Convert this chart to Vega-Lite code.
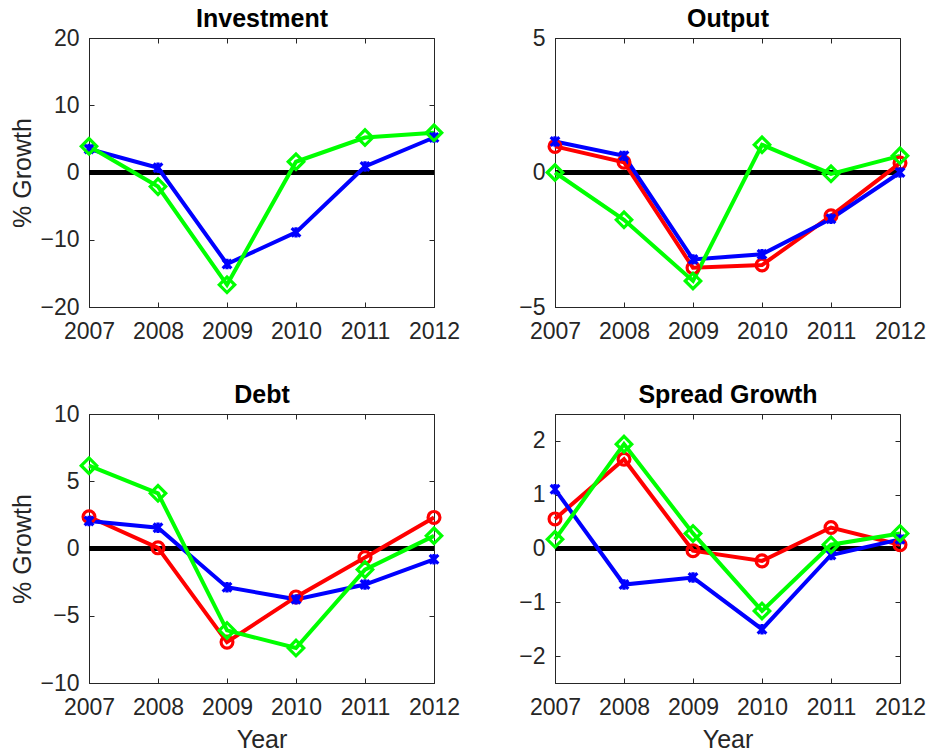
{
  "$schema": "https://vega.github.io/schema/vega-lite/v6.json",
  "background": "white",
  "padding": {"left": 10, "top": 6, "right": 5, "bottom": 5},
  "datasets": {
    "all": [
      {"panel": "Investment", "series": "blue", "year": 2007, "value": 3.5},
      {"panel": "Investment", "series": "blue", "year": 2008, "value": 0.7},
      {"panel": "Investment", "series": "blue", "year": 2009, "value": -13.6},
      {"panel": "Investment", "series": "blue", "year": 2010, "value": -8.9},
      {"panel": "Investment", "series": "blue", "year": 2011, "value": 0.9},
      {"panel": "Investment", "series": "blue", "year": 2012, "value": 5.2},
      {"panel": "Investment", "series": "green", "year": 2007, "value": 3.9},
      {"panel": "Investment", "series": "green", "year": 2008, "value": -2.1},
      {"panel": "Investment", "series": "green", "year": 2009, "value": -16.7},
      {"panel": "Investment", "series": "green", "year": 2010, "value": 1.6},
      {"panel": "Investment", "series": "green", "year": 2011, "value": 5.2},
      {"panel": "Investment", "series": "green", "year": 2012, "value": 5.9},

      {"panel": "Output", "series": "red", "year": 2007, "value": 0.97},
      {"panel": "Output", "series": "red", "year": 2008, "value": 0.38},
      {"panel": "Output", "series": "red", "year": 2009, "value": -3.54},
      {"panel": "Output", "series": "red", "year": 2010, "value": -3.44},
      {"panel": "Output", "series": "red", "year": 2011, "value": -1.61},
      {"panel": "Output", "series": "red", "year": 2012, "value": 0.35},
      {"panel": "Output", "series": "blue", "year": 2007, "value": 1.15},
      {"panel": "Output", "series": "blue", "year": 2008, "value": 0.62},
      {"panel": "Output", "series": "blue", "year": 2009, "value": -3.23},
      {"panel": "Output", "series": "blue", "year": 2010, "value": -3.04},
      {"panel": "Output", "series": "blue", "year": 2011, "value": -1.72},
      {"panel": "Output", "series": "blue", "year": 2012, "value": 0.0},
      {"panel": "Output", "series": "green", "year": 2007, "value": 0.0},
      {"panel": "Output", "series": "green", "year": 2008, "value": -1.76},
      {"panel": "Output", "series": "green", "year": 2009, "value": -4.03},
      {"panel": "Output", "series": "green", "year": 2010, "value": 1.03},
      {"panel": "Output", "series": "green", "year": 2011, "value": -0.05},
      {"panel": "Output", "series": "green", "year": 2012, "value": 0.62},

      {"panel": "Debt", "series": "red", "year": 2007, "value": 2.36},
      {"panel": "Debt", "series": "red", "year": 2008, "value": 0.05},
      {"panel": "Debt", "series": "red", "year": 2009, "value": -6.96},
      {"panel": "Debt", "series": "red", "year": 2010, "value": -3.6},
      {"panel": "Debt", "series": "red", "year": 2011, "value": -0.67},
      {"panel": "Debt", "series": "red", "year": 2012, "value": 2.31},
      {"panel": "Debt", "series": "blue", "year": 2007, "value": 2.04},
      {"panel": "Debt", "series": "blue", "year": 2008, "value": 1.54},
      {"panel": "Debt", "series": "blue", "year": 2009, "value": -2.88},
      {"panel": "Debt", "series": "blue", "year": 2010, "value": -3.78},
      {"panel": "Debt", "series": "blue", "year": 2011, "value": -2.68},
      {"panel": "Debt", "series": "blue", "year": 2012, "value": -0.8},
      {"panel": "Debt", "series": "green", "year": 2007, "value": 6.16},
      {"panel": "Debt", "series": "green", "year": 2008, "value": 4.1},
      {"panel": "Debt", "series": "green", "year": 2009, "value": -6.09},
      {"panel": "Debt", "series": "green", "year": 2010, "value": -7.4},
      {"panel": "Debt", "series": "green", "year": 2011, "value": -1.57},
      {"panel": "Debt", "series": "green", "year": 2012, "value": 0.94},

      {"panel": "Spread", "series": "red", "year": 2007, "value": 0.55},
      {"panel": "Spread", "series": "red", "year": 2008, "value": 1.66},
      {"panel": "Spread", "series": "red", "year": 2009, "value": -0.04},
      {"panel": "Spread", "series": "red", "year": 2010, "value": -0.23},
      {"panel": "Spread", "series": "red", "year": 2011, "value": 0.39},
      {"panel": "Spread", "series": "red", "year": 2012, "value": 0.07},
      {"panel": "Spread", "series": "blue", "year": 2007, "value": 1.1},
      {"panel": "Spread", "series": "blue", "year": 2008, "value": -0.67},
      {"panel": "Spread", "series": "blue", "year": 2009, "value": -0.54},
      {"panel": "Spread", "series": "blue", "year": 2010, "value": -1.5},
      {"panel": "Spread", "series": "blue", "year": 2011, "value": -0.12},
      {"panel": "Spread", "series": "blue", "year": 2012, "value": 0.17},
      {"panel": "Spread", "series": "green", "year": 2007, "value": 0.17},
      {"panel": "Spread", "series": "green", "year": 2008, "value": 1.94},
      {"panel": "Spread", "series": "green", "year": 2009, "value": 0.28},
      {"panel": "Spread", "series": "green", "year": 2010, "value": -1.16},
      {"panel": "Spread", "series": "green", "year": 2011, "value": 0.07},
      {"panel": "Spread", "series": "green", "year": 2012, "value": 0.28}
    ]
  },
  "data": {"name": "all"},
  "columns": 2,
  "spacing": {"row": 107, "column": 121},
  "bounds": "flush",
  "concat": [
    {
      "width": 345, "height": 269,
      "transform": [{"filter": "datum.panel === 'Investment'"}],
      "layer": [
        {"mark": {"type": "rule", "color": "black", "strokeWidth": 4},
         "encoding": {"y": {"datum": 0, "type": "quantitative", "scale": {"domain": [-20, 20], "nice": false, "zero": false}, "axis": null}}},
        {"mark": {"type": "line", "strokeWidth": 4},
         "encoding": {
           "x": {"field": "year", "type": "quantitative", "scale": {"domain": [2007, 2012], "nice": false, "zero": false}, "axis": {"values": [2007, 2008, 2009, 2010, 2011, 2012], "format": "d", "title": null}},
           "y": {"field": "value", "type": "quantitative", "axis": {"values": [-20, -10, 0, 10, 20], "title": "% Growth"}},
           "color": {"field": "series", "type": "nominal", "scale": {"domain": ["red", "blue", "green"], "range": ["#ff0000", "#0000ff", "#00ff00"]}, "legend": null}
         }},
        {"mark": {"type": "point", "filled": false, "strokeWidth": 3.2, "opacity": 1},
         "encoding": {
           "x": {"field": "year", "type": "quantitative", "axis": null},
           "y": {"field": "value", "type": "quantitative", "axis": null},
           "color": {"field": "series", "type": "nominal", "legend": null},
           "shape": {"field": "series", "type": "nominal", "scale": {"domain": ["red", "blue", "green"], "range": ["circle", "M-1,-1L1,1M-1,1L1,-1M0,-1.2L0,1.2", "diamond"]}, "legend": null},
           "size": {"field": "series", "type": "nominal", "scale": {"type": "ordinal", "domain": ["red", "blue", "green"], "range": [140, 75, 240]}, "legend": null}
         }},
        {"mark": {"type": "point", "opacity": 0},
         "encoding": {
           "x": {"field": "year", "type": "quantitative", "axis": {"orient": "top", "labels": false, "domain": false, "title": "Investment", "titleFontWeight": "bold", "titleColor": "black", "titleFontSize": 25, "titlePadding": 6, "values": [2007, 2008, 2009, 2010, 2011, 2012]}},
           "y": {"field": "value", "type": "quantitative", "axis": {"orient": "right", "labels": false, "domain": false, "title": null, "values": [-20, -10, 0, 10, 20]}}
         }}
      ],
      "resolve": {"axis": {"x": "independent", "y": "independent"}}
    },
    {
      "width": 345, "height": 269,
      "transform": [{"filter": "datum.panel === 'Output'"}],
      "layer": [
        {"mark": {"type": "rule", "color": "black", "strokeWidth": 4},
         "encoding": {"y": {"datum": 0, "type": "quantitative", "scale": {"domain": [-5, 5], "nice": false, "zero": false}, "axis": null}}},
        {"mark": {"type": "line", "strokeWidth": 4},
         "encoding": {
           "x": {"field": "year", "type": "quantitative", "scale": {"domain": [2007, 2012], "nice": false, "zero": false}, "axis": {"values": [2007, 2008, 2009, 2010, 2011, 2012], "format": "d", "title": null}},
           "y": {"field": "value", "type": "quantitative", "axis": {"values": [-5, 0, 5], "title": null}},
           "color": {"field": "series", "type": "nominal", "scale": {"domain": ["red", "blue", "green"], "range": ["#ff0000", "#0000ff", "#00ff00"]}, "legend": null}
         }},
        {"mark": {"type": "point", "filled": false, "strokeWidth": 3.2, "opacity": 1},
         "encoding": {
           "x": {"field": "year", "type": "quantitative", "axis": null},
           "y": {"field": "value", "type": "quantitative", "axis": null},
           "color": {"field": "series", "type": "nominal", "legend": null},
           "shape": {"field": "series", "type": "nominal", "scale": {"domain": ["red", "blue", "green"], "range": ["circle", "M-1,-1L1,1M-1,1L1,-1M0,-1.2L0,1.2", "diamond"]}, "legend": null},
           "size": {"field": "series", "type": "nominal", "scale": {"type": "ordinal", "domain": ["red", "blue", "green"], "range": [140, 75, 240]}, "legend": null}
         }},
        {"mark": {"type": "point", "opacity": 0},
         "encoding": {
           "x": {"field": "year", "type": "quantitative", "axis": {"orient": "top", "labels": false, "domain": false, "title": "Output", "titleFontWeight": "bold", "titleColor": "black", "titleFontSize": 25, "titlePadding": 6, "values": [2007, 2008, 2009, 2010, 2011, 2012]}},
           "y": {"field": "value", "type": "quantitative", "axis": {"orient": "right", "labels": false, "domain": false, "title": null, "values": [-5, 0, 5]}}
         }}
      ],
      "resolve": {"axis": {"x": "independent", "y": "independent"}}
    },
    {
      "width": 345, "height": 269,
      "transform": [{"filter": "datum.panel === 'Debt'"}],
      "layer": [
        {"mark": {"type": "rule", "color": "black", "strokeWidth": 4},
         "encoding": {"y": {"datum": 0, "type": "quantitative", "scale": {"domain": [-10, 10], "nice": false, "zero": false}, "axis": null}}},
        {"mark": {"type": "line", "strokeWidth": 4},
         "encoding": {
           "x": {"field": "year", "type": "quantitative", "scale": {"domain": [2007, 2012], "nice": false, "zero": false}, "axis": {"values": [2007, 2008, 2009, 2010, 2011, 2012], "format": "d", "title": "Year"}},
           "y": {"field": "value", "type": "quantitative", "axis": {"values": [-10, -5, 0, 5, 10], "title": "% Growth"}},
           "color": {"field": "series", "type": "nominal", "scale": {"domain": ["red", "blue", "green"], "range": ["#ff0000", "#0000ff", "#00ff00"]}, "legend": null}
         }},
        {"mark": {"type": "point", "filled": false, "strokeWidth": 3.2, "opacity": 1},
         "encoding": {
           "x": {"field": "year", "type": "quantitative", "axis": null},
           "y": {"field": "value", "type": "quantitative", "axis": null},
           "color": {"field": "series", "type": "nominal", "legend": null},
           "shape": {"field": "series", "type": "nominal", "scale": {"domain": ["red", "blue", "green"], "range": ["circle", "M-1,-1L1,1M-1,1L1,-1M0,-1.2L0,1.2", "diamond"]}, "legend": null},
           "size": {"field": "series", "type": "nominal", "scale": {"type": "ordinal", "domain": ["red", "blue", "green"], "range": [140, 75, 240]}, "legend": null}
         }},
        {"mark": {"type": "point", "opacity": 0},
         "encoding": {
           "x": {"field": "year", "type": "quantitative", "axis": {"orient": "top", "labels": false, "domain": false, "title": "Debt", "titleFontWeight": "bold", "titleColor": "black", "titleFontSize": 25, "titlePadding": 6, "values": [2007, 2008, 2009, 2010, 2011, 2012]}},
           "y": {"field": "value", "type": "quantitative", "axis": {"orient": "right", "labels": false, "domain": false, "title": null, "values": [-10, -5, 0, 5, 10]}}
         }}
      ],
      "resolve": {"axis": {"x": "independent", "y": "independent"}}
    },
    {
      "width": 345, "height": 269,
      "transform": [{"filter": "datum.panel === 'Spread'"}],
      "layer": [
        {"mark": {"type": "rule", "color": "black", "strokeWidth": 4},
         "encoding": {"y": {"datum": 0, "type": "quantitative", "scale": {"domain": [-2.5, 2.5], "nice": false, "zero": false}, "axis": null}}},
        {"mark": {"type": "line", "strokeWidth": 4},
         "encoding": {
           "x": {"field": "year", "type": "quantitative", "scale": {"domain": [2007, 2012], "nice": false, "zero": false}, "axis": {"values": [2007, 2008, 2009, 2010, 2011, 2012], "format": "d", "title": "Year"}},
           "y": {"field": "value", "type": "quantitative", "axis": {"values": [-2, -1, 0, 1, 2], "title": null}},
           "color": {"field": "series", "type": "nominal", "scale": {"domain": ["red", "blue", "green"], "range": ["#ff0000", "#0000ff", "#00ff00"]}, "legend": null}
         }},
        {"mark": {"type": "point", "filled": false, "strokeWidth": 3.2, "opacity": 1},
         "encoding": {
           "x": {"field": "year", "type": "quantitative", "axis": null},
           "y": {"field": "value", "type": "quantitative", "axis": null},
           "color": {"field": "series", "type": "nominal", "legend": null},
           "shape": {"field": "series", "type": "nominal", "scale": {"domain": ["red", "blue", "green"], "range": ["circle", "M-1,-1L1,1M-1,1L1,-1M0,-1.2L0,1.2", "diamond"]}, "legend": null},
           "size": {"field": "series", "type": "nominal", "scale": {"type": "ordinal", "domain": ["red", "blue", "green"], "range": [140, 75, 240]}, "legend": null}
         }},
        {"mark": {"type": "point", "opacity": 0},
         "encoding": {
           "x": {"field": "year", "type": "quantitative", "axis": {"orient": "top", "labels": false, "domain": false, "title": "Spread Growth", "titleFontWeight": "bold", "titleColor": "black", "titleFontSize": 25, "titlePadding": 6, "values": [2007, 2008, 2009, 2010, 2011, 2012]}},
           "y": {"field": "value", "type": "quantitative", "axis": {"orient": "right", "labels": false, "domain": false, "title": null, "values": [-2, -1, 0, 1, 2]}}
         }}
      ],
      "resolve": {"axis": {"x": "independent", "y": "independent"}}
    }
  ],
  "config": {
    "font": "Liberation Sans",
    "view": {"stroke": "#262626", "strokeWidth": 1},
    "axis": {
      "grid": false,
      "labelFont": "Liberation Sans",
      "labelFontSize": 23,
      "labelColor": "#262626",
      "labelPadding": 15,
      "labelFlush": false,
      "labelOverlap": false,
      "titleFont": "Liberation Sans",
      "titleFontSize": 25,
      "titleFontWeight": "normal",
      "titleColor": "#262626",
      "domainColor": "#262626",
      "domainWidth": 1,
      "tickColor": "#262626",
      "tickWidth": 1,
      "tickSize": -5
    },
    "axisX": {"labelPadding": 18, "titlePadding": 8}
  }
}
